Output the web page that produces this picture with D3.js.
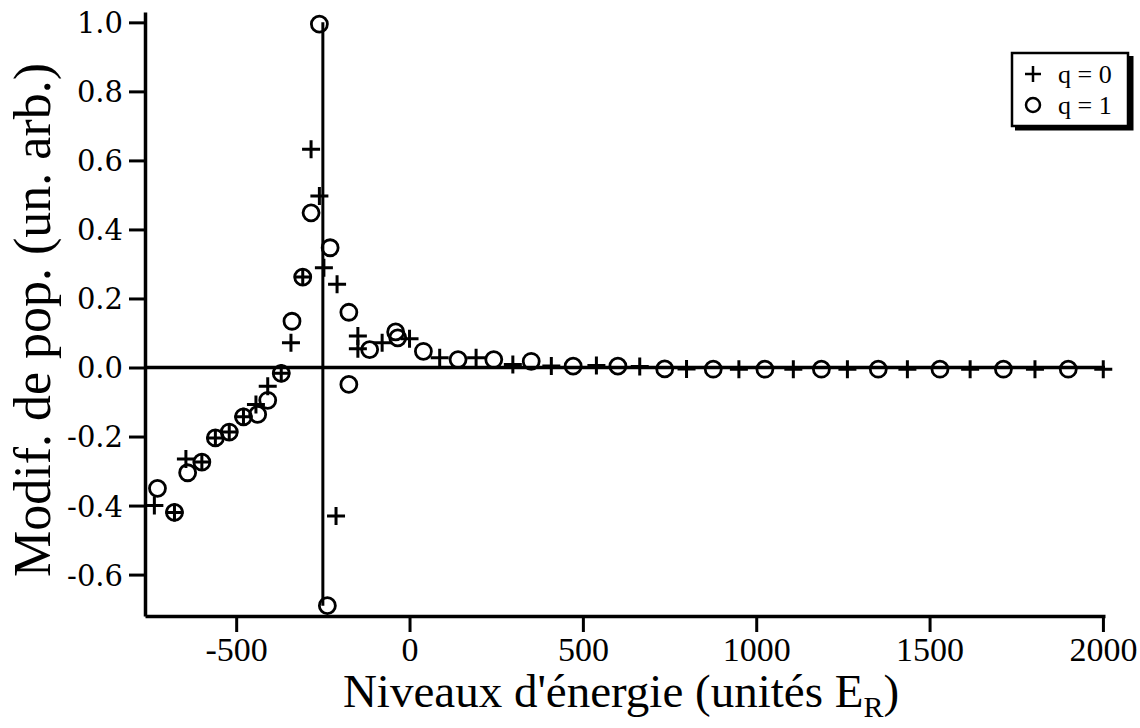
<!DOCTYPE html>
<html>
<head>
<meta charset="utf-8">
<script src="https://cdn.jsdelivr.net/npm/d3@7"></script>
<style>
  html, body { margin: 0; padding: 0; background: #fff; }
  svg { display: block; }
</style>
</head>
<body>
<svg id="chart" width="1140" height="728"></svg>
<script>
// ---- data ----
const q0X = [-736, -678, -645, -599, -560, -520, -479, -443, -409, -370, -342, -308, -284, -260, -247, -212, -209, -149, -149, -79, 0, 87, 192, 298, 409, 539, 664, 799, 950, 1107, 1263, 1436, 1617, 1804, 2001];
const q0Y = [-0.40, -0.42, -0.265, -0.274, -0.204, -0.187, -0.143, -0.107, -0.054, -0.017, 0.072, 0.262, 0.632, 0.497, 0.289, -0.43, 0.241, 0.091, 0.054, 0.072, 0.083, 0.028, 0.028, 0.009, 0.004, 0.006, 0.003, -0.004, -0.005, -0.005, -0.005, -0.005, -0.005, -0.005, -0.005];
const q1X = [-727, -678, -640, -599, -560, -520, -479, -438, -409, -370, -339, -308, -284, -260, -237, -229, -175, -175, -115, -40, -34, 40, 140, 243, 351, 472, 601, 736, 876, 1025, 1188, 1352, 1530, 1713, 1900];
const q1Y = [-0.35, -0.42, -0.305, -0.274, -0.204, -0.187, -0.143, -0.136, -0.095, -0.017, 0.134, 0.262, 0.448, 0.995, -0.69, 0.347, 0.160, -0.049, 0.052, 0.103, 0.086, 0.047, 0.023, 0.023, 0.018, 0.004, 0.004, -0.004, -0.005, -0.005, -0.005, -0.005, -0.005, -0.005, -0.005];
const refLineX = -250;
const refLineY = [1.0, -0.69];
const xTicks = [-500, 0, 500, 1000, 1500, 2000];
const yTicks = [-0.6, -0.4, -0.2, 0.0, 0.2, 0.4, 0.6, 0.8, 1.0];
const legendLabels = ["q = 0", "q = 1"];

// ---- drawing ----
const svg = d3.select("#chart");
svg.append("rect").attr("width", 1140).attr("height", 728).attr("fill", "#fff");

const x = d3.scaleLinear().domain([-763, 2006]).range([145, 1105]);
const y = d3.scaleLinear().domain([-0.72, 1.03]).range([616, 12]);

const fmt = d => d3.format(".1f")(d).replace("\u2212", "-");

const yAxis = svg.append("g")
  .attr("transform", `translate(${x.range()[0]},0)`)
  .call(d3.axisLeft(y).tickValues(yTicks).tickFormat(fmt).tickSize(16).tickSizeOuter(0).tickPadding(6));
yAxis.selectAll("line").attr("stroke", "#000").attr("stroke-width", 3);
yAxis.select(".domain").attr("stroke", "#000").attr("stroke-width", 3.5);
yAxis.selectAll("text")
  .attr("fill", "#000")
  .attr("dy", "0.36em")
  .style("font-family", "'DejaVu Serif', serif")
  .style("font-size", "29px");

const xAxis = svg.append("g")
  .attr("transform", `translate(0,${y.range()[0]})`)
  .call(d3.axisBottom(x).tickValues(xTicks).tickFormat(d => String(d)).tickSize(16).tickSizeOuter(0).tickPadding(5));
xAxis.selectAll("line").attr("stroke", "#000").attr("stroke-width", 3);
xAxis.select(".domain").attr("stroke", "#000").attr("stroke-width", 3.5);
xAxis.selectAll("text")
  .attr("fill", "#000")
  .style("font-family", "'Liberation Serif', serif")
  .style("font-size", "34px");

// zero line
svg.append("line")
  .attr("x1", x.range()[0]).attr("x2", x.range()[1])
  .attr("y1", y(0)).attr("y2", y(0))
  .attr("stroke", "#000").attr("stroke-width", 3.5);

// vertical reference line
svg.append("line")
  .attr("x1", x(refLineX)).attr("x2", x(refLineX))
  .attr("y1", y(refLineY[0])).attr("y2", y(refLineY[1]))
  .attr("stroke", "#000").attr("stroke-width", 3);

const plusPath = (cx, cy, s) => `M${cx - s},${cy}H${cx + s}M${cx},${cy - s}V${cy + s}`;

// q = 0 : plus markers
svg.append("g").selectAll("path")
  .data(q0X.map((d, i) => [d, q0Y[i]]))
  .join("path")
  .attr("d", d => plusPath(x(d[0]), y(d[1]), 9))
  .attr("stroke", "#000").attr("stroke-width", 3).attr("fill", "none");

// q = 1 : circle markers
svg.append("g").selectAll("circle")
  .data(q1X.map((d, i) => [d, q1Y[i]]))
  .join("circle")
  .attr("cx", d => x(d[0])).attr("cy", d => y(d[1]))
  .attr("r", 8)
  .attr("stroke", "#000").attr("stroke-width", 2.8).attr("fill", "none");

// axis titles
svg.append("text")
  .attr("transform", `translate(50,${(y.range()[0] + y.range()[1]) / 2 + 6}) rotate(-90)`)
  .attr("text-anchor", "middle")
  .style("font-family", "'Liberation Serif', serif")
  .style("font-size", "52px")
  .attr("fill", "#000")
  .text("Modif. de pop. (un. arb.)");

const xt = svg.append("text")
  .attr("x", 621)
  .attr("y", 707)
  .attr("text-anchor", "middle")
  .style("font-family", "'Liberation Serif', serif")
  .style("font-size", "47px")
  .attr("fill", "#000");
xt.append("tspan").text("Niveaux d'énergie (unités E");
xt.append("tspan").attr("dy", 10).style("font-size", "30px").text("R");
xt.append("tspan").attr("dy", -10).text(")");

// legend
const lg = svg.append("g").attr("transform", "translate(1012,53)");
lg.append("rect").attr("x", 0).attr("y", 0).attr("width", 116).attr("height", 73)
  .attr("fill", "#fff").attr("stroke", "#000").attr("stroke-width", 2.5);
lg.append("path").attr("d", "M3,75H119V3").attr("fill", "none").attr("stroke", "#000").attr("stroke-width", 5);
lg.append("path").attr("d", plusPath(21, 21, 8)).attr("stroke", "#000").attr("stroke-width", 2.5).attr("fill", "none");
lg.append("circle").attr("cx", 21).attr("cy", 52).attr("r", 7).attr("stroke", "#000").attr("stroke-width", 2.5).attr("fill", "none");
lg.selectAll("text.lab").data(legendLabels).join("text")
  .attr("class", "lab")
  .attr("x", 46).attr("y", (d, i) => 30 + i * 31)
  .style("font-family", "'Liberation Serif', serif")
  .style("font-size", "26px")
  .attr("fill", "#000")
  .text(d => d);
</script>
</body>
</html>
